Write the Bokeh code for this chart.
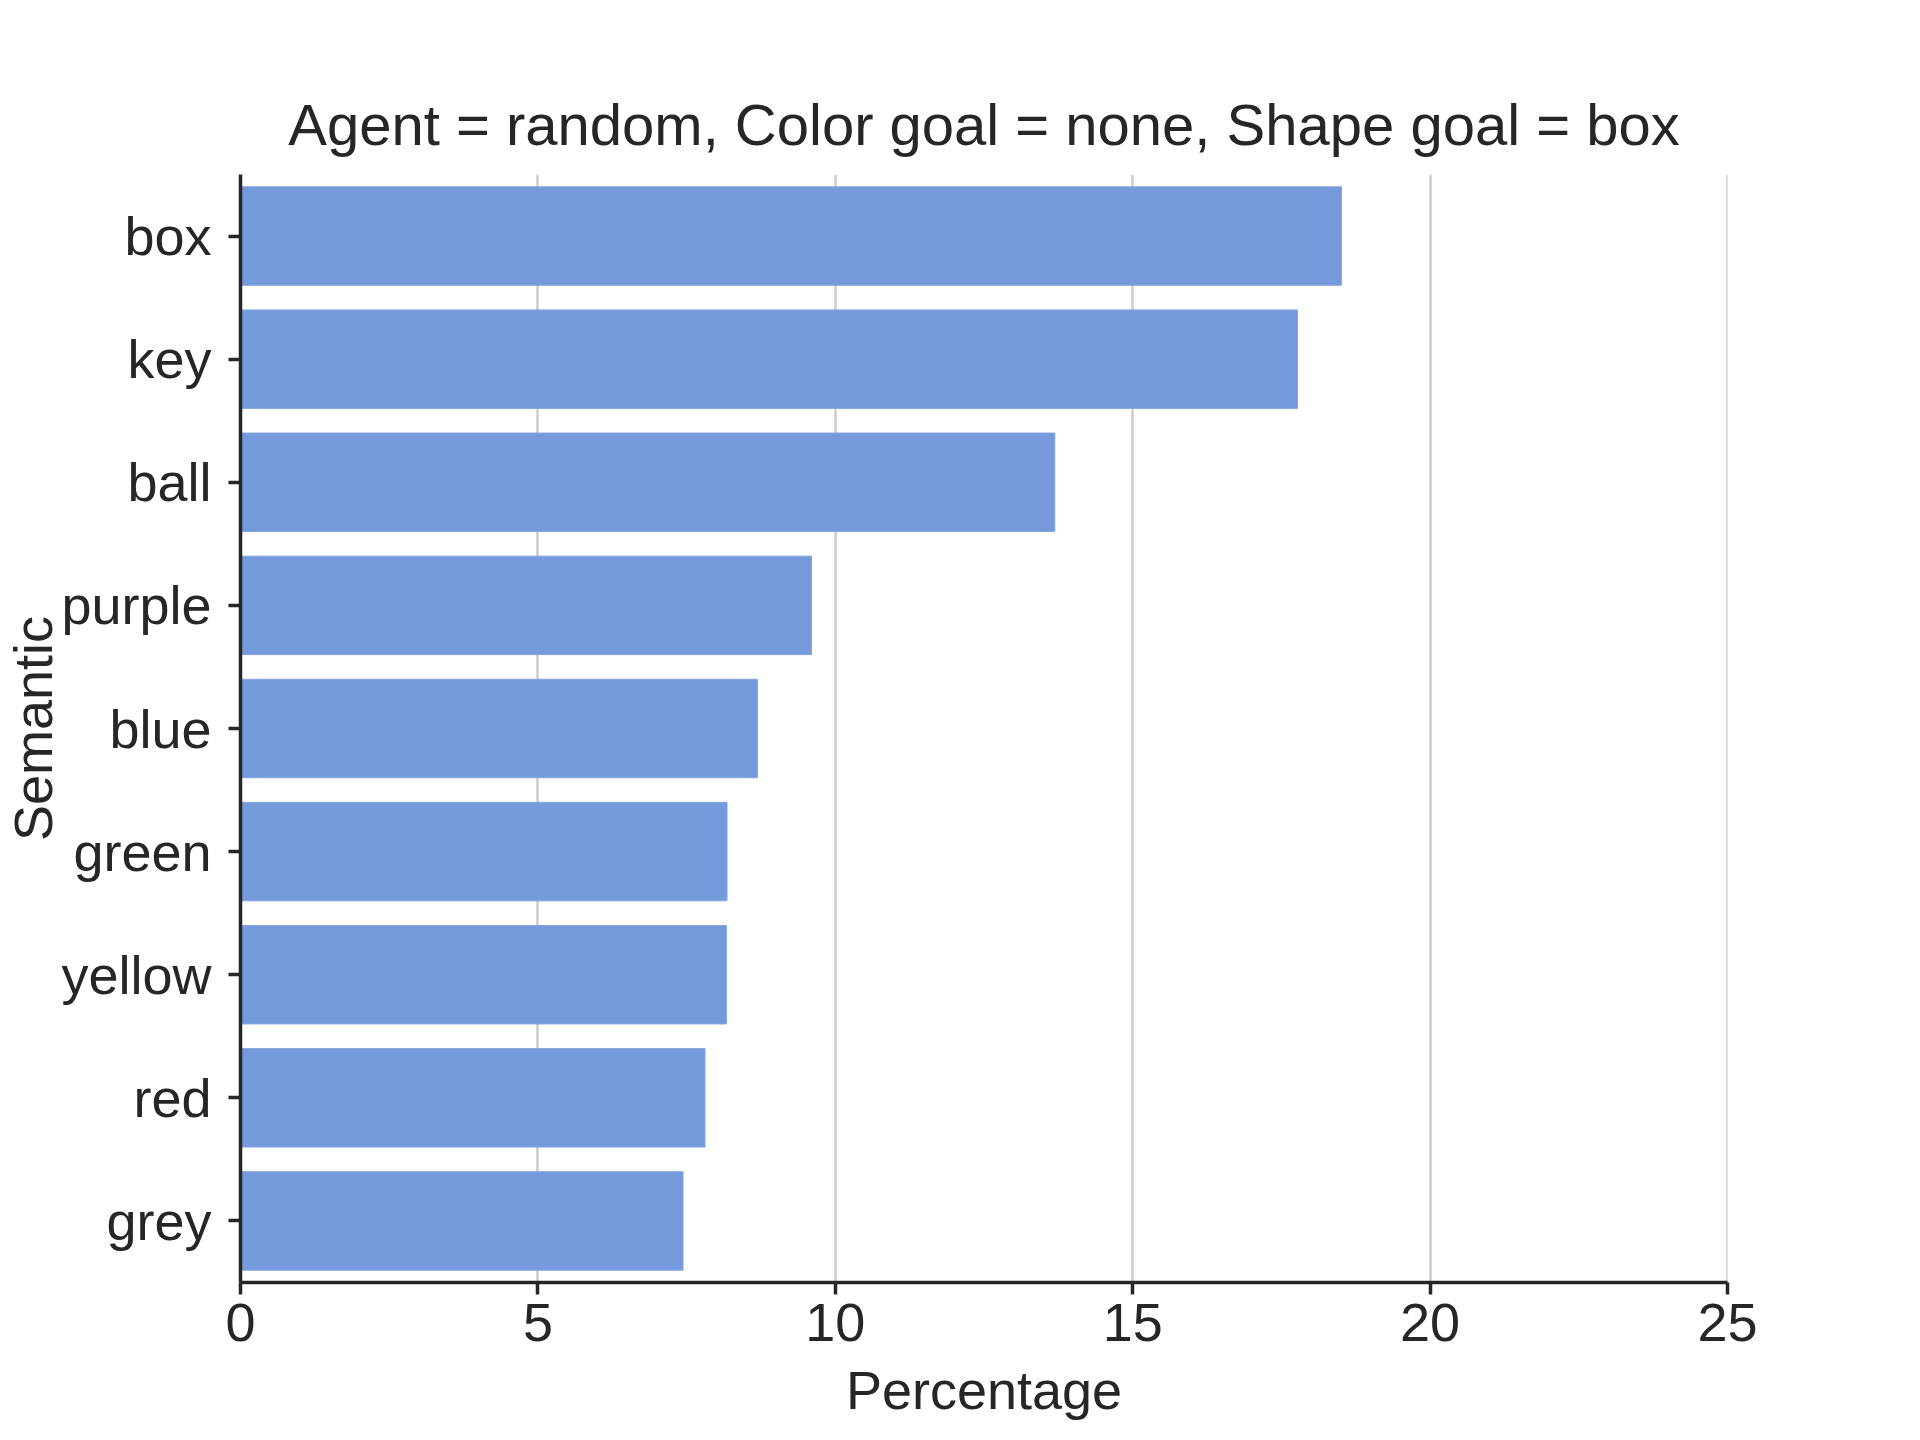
from bokeh.plotting import figure
from bokeh.models import Range1d, FactorRange, FixedTicker, ColumnDataSource, Span, Title
from bokeh.embed import file_html
from bokeh.resources import INLINE

categories = ["box", "key", "ball", "purple", "blue", "green", "yellow", "red", "grey"]
percentages = [18.51, 17.77, 13.69, 9.60, 8.69, 8.18, 8.17, 7.81, 7.44]
x_ticks = [0, 5, 10, 15, 20, 25]

TEXT = "#262626"
FONT = "Liberation Sans"

source = ColumnDataSource(data=dict(cat=categories, pct=percentages))

p = figure(
    width=1904, height=1424,
    x_range=Range1d(0, 25),
    y_range=FactorRange(factors=list(reversed(categories))),
    output_backend="svg", toolbar_location=None,
    min_border_left=240, min_border_right=177,
    min_border_top=174, min_border_bottom=142,
    title="Agent = random, Color goal = none, Shape goal = box",
)

p.hbar(y="cat", right="pct", left=0, height=0.8, source=source,
       fill_color="#759ADC", line_color="#86A6E0", line_width=1)

p.add_layout(Span(location=x_ticks[-1], dimension="height",
                  line_color="#cccccc", line_width=2.5, level="underlay"))

# small spacer between the title and the plot frame
p.add_layout(Title(text=" ", text_font_size="10px", standoff=0), "above")

p.outline_line_color = None
p.background_fill_color = "white"
p.border_fill_color = "white"

p.title.align = "center"
p.title.text_font = FONT
p.title.text_font_size = "58px"
p.title.text_font_style = "normal"
p.title.text_color = TEXT

p.xgrid.grid_line_color = "#cccccc"
p.xgrid.grid_line_width = 2.5
p.xgrid.ticker = FixedTicker(ticks=x_ticks)
p.ygrid.grid_line_color = None

for ax in (p.xaxis[0], p.yaxis[0]):
    ax.axis_line_color = TEXT
    ax.axis_line_width = 3.5
    ax.major_tick_line_color = TEXT
    ax.major_tick_line_width = 3.5
    ax.major_tick_out = 12
    ax.major_tick_in = 0
    ax.minor_tick_line_color = None
    ax.major_label_text_font = FONT
    ax.major_label_text_font_size = "54px"
    ax.major_label_text_color = TEXT
    ax.axis_label_text_font = FONT
    ax.axis_label_text_font_size = "54px"
    ax.axis_label_text_font_style = "normal"
    ax.axis_label_text_color = TEXT

p.xaxis[0].ticker = FixedTicker(ticks=x_ticks)
p.xaxis[0].axis_label = "Percentage"
p.xaxis[0].major_label_standoff = 9
p.xaxis[0].axis_label_standoff = 16

p.yaxis[0].axis_label = "Semantic"
p.yaxis[0].major_label_standoff = 17
p.yaxis[0].axis_label_standoff = -5

open("out.html", "w").write(file_html(p, INLINE))
